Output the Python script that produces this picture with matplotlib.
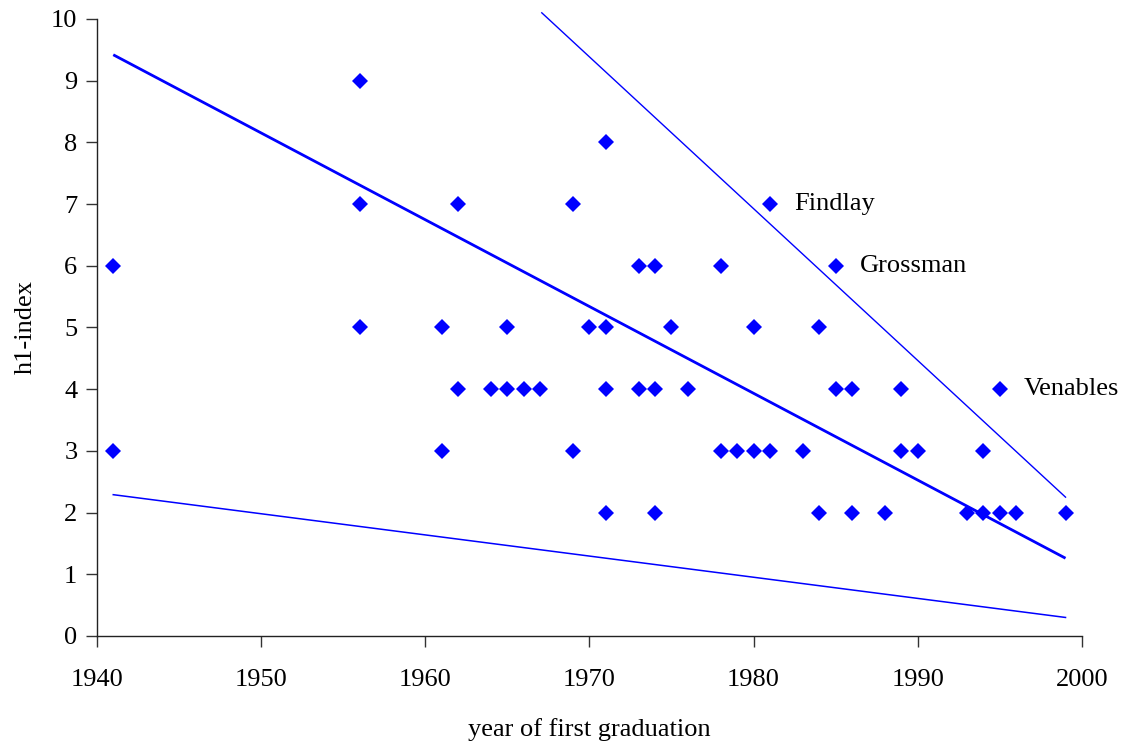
import numpy as np
import matplotlib
matplotlib.use("Agg")
import matplotlib.pyplot as plt

# h1-index values by year of first graduation
years = [1956,
         1971,
         1956, 1962, 1969, 1981,
         1941, 1973, 1974, 1978, 1985,
         1956, 1961, 1965, 1970, 1971, 1975, 1980, 1984,
         1962, 1964, 1965, 1966, 1967, 1971, 1973, 1974, 1976, 1985, 1986, 1989, 1995,
         1941, 1961, 1969, 1978, 1979, 1980, 1981, 1983, 1989, 1990, 1994,
         1971, 1974, 1984, 1986, 1988, 1993, 1994, 1995, 1996, 1999]
h1 = [9,
      8,
      7, 7, 7, 7,
      6, 6, 6, 6, 6,
      5, 5, 5, 5, 5, 5, 5, 5,
      4, 4, 4, 4, 4, 4, 4, 4, 4, 4, 4, 4, 4,
      3, 3, 3, 3, 3, 3, 3, 3, 3, 3, 3,
      2, 2, 2, 2, 2, 2, 2, 2, 2, 2]

# trend lines (end points)
fit_x = [1941, 1999]
fit_y = [9.42, 1.26]
upper_x = [1967.1, 1999]
upper_y = [10.1, 2.25]
lower_x = [1941, 1999]
lower_y = [2.29, 0.30]

# labelled people
names = ["Findlay", "Grossman", "Venables"]
name_x = [1981, 1985, 1995]
name_y = [7, 6, 4]

plt.rcParams['font.family'] = ['Liberation Serif', 'DejaVu Serif']

fig = plt.figure(figsize=(11.22, 7.44), dpi=100)
ax = fig.add_axes([0.0863, 0.1452, 0.878, 0.8293])

blue = "#0000ff"
ax.plot(fit_x, fit_y, color=blue, lw=2.0, solid_capstyle='butt')
ax.plot(upper_x, upper_y, color=blue, lw=1.0, clip_on=False)
ax.plot(lower_x, lower_y, color=blue, lw=1.1)
ax.plot(years, h1, linestyle='none', marker='D', markersize=8.2,
        color=blue, markeredgewidth=0, clip_on=False)

for n, x, y in zip(names, name_x, name_y):
    ax.text(x + 1.45, y, n, fontsize=19, va='center', ha='left')

ax.set_xlim(1940, 2000)
ax.set_ylim(0, 10)
ax.set_xticks(np.arange(1940, 2001, 10))
ax.set_yticks(np.arange(0, 11, 1))
ax.spines['top'].set_visible(False)
ax.spines['right'].set_visible(False)
for s in ['left', 'bottom']:
    ax.spines[s].set_linewidth(1.0)
    ax.spines[s].set_color("#222222")
ax.tick_params(axis='both', direction='out', length=8, width=1.0,
               color="#333333", labelsize=19)
ax.tick_params(axis='y', pad=6)
ax.tick_params(axis='x', pad=16)

ax.set_xlabel("year of first graduation", fontsize=19, labelpad=19)
ax.set_ylabel("h1-index", fontsize=19, labelpad=10)

fig.savefig("out.png", dpi=100)
